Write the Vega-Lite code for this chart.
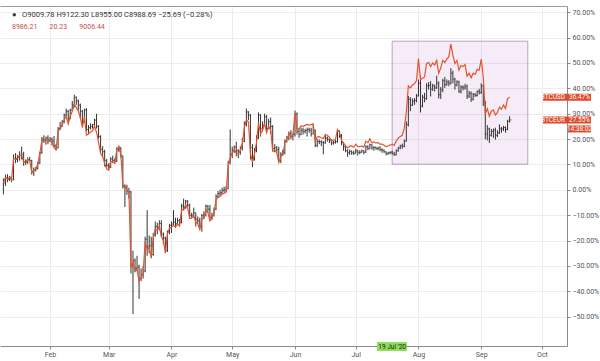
{
  "$schema": "https://vega.github.io/schema/vega-lite/v6.json",
  "width": 567,
  "height": 340,
  "autosize": {"type": "none"},
  "padding": {"left": 0, "top": 6, "right": 33, "bottom": 15},
  "background": "white",
  "config": {
    "view": {"stroke": null},
    "font": "Roboto",
    "axis": {"labelOverlap": false}
  },
  "title": {
    "text": "●\u00a0\u00a0\u00a0O9009.78  H9122.30  L8955.00  C8988.69  −25.69 (−0.28%)",
    "subtitle": "8986.21\u00a0\u00a0\u00a0\u00a0\u00a0\u00a0\u00a020.23\u00a0\u00a0\u00a0\u00a0\u00a0\u00a0\u00a09006.44",
    "anchor": "start",
    "frame": "group",
    "orient": "top",
    "offset": -24,
    "dx": 12,
    "fontSize": 7.5,
    "fontWeight": "normal",
    "color": "#333333",
    "subtitleFontSize": 7,
    "subtitleColor": "#c0504d",
    "subtitlePadding": 5
  },
  "datasets": {
    "btc": [
      {"d":"2020-01-09","h":4.5,"l":-1.8,"c":2.8,"u":2.8},
      {"d":"2020-01-10","h":6.0,"l":1.5,"c":4.7,"u":4.8},
      {"d":"2020-01-11","h":6.2,"l":3.0,"c":4.2,"u":4.3},
      {"d":"2020-01-12","h":5.5,"l":3.5,"c":5.0,"u":5.0},
      {"d":"2020-01-13","h":5.2,"l":3.0,"c":3.9,"u":3.8},
      {"d":"2020-01-14","h":14.0,"l":3.8,"c":12.4,"u":12.4},
      {"d":"2020-01-15","h":14.5,"l":10.5,"c":12.0,"u":12.0},
      {"d":"2020-01-16","h":13.8,"l":10.8,"c":12.7,"u":12.8},
      {"d":"2020-01-17","h":15.2,"l":11.5,"c":13.5,"u":13.4},
      {"d":"2020-01-18","h":17.0,"l":12.0,"c":14.0,"u":13.8},
      {"d":"2020-01-19","h":15.0,"l":9.5,"c":11.0,"u":11.0},
      {"d":"2020-01-20","h":12.0,"l":9.8,"c":10.8,"u":10.7},
      {"d":"2020-01-21","h":12.8,"l":10.2,"c":12.0,"u":12.0},
      {"d":"2020-01-22","h":13.0,"l":11.0,"c":11.6,"u":11.4},
      {"d":"2020-01-23","h":11.8,"l":6.0,"c":7.0,"u":7.0},
      {"d":"2020-01-24","h":8.8,"l":5.5,"c":7.8,"u":7.6},
      {"d":"2020-01-25","h":9.0,"l":7.2,"c":8.5,"u":8.2},
      {"d":"2020-01-26","h":11.0,"l":8.0,"c":10.5,"u":10.2},
      {"d":"2020-01-27","h":15.0,"l":10.2,"c":14.6,"u":14.4},
      {"d":"2020-01-28","h":20.8,"l":14.2,"c":20.0,"u":19.6},
      {"d":"2020-01-29","h":21.5,"l":18.5,"c":19.5,"u":19.2},
      {"d":"2020-01-30","h":21.0,"l":17.8,"c":20.4,"u":20.0},
      {"d":"2020-01-31","h":21.5,"l":18.0,"c":19.6,"u":19.2},
      {"d":"2020-02-01","h":20.8,"l":19.0,"c":20.0,"u":19.2},
      {"d":"2020-02-02","h":20.6,"l":17.5,"c":19.2,"u":18.5},
      {"d":"2020-02-03","h":21.2,"l":16.8,"c":17.3,"u":16.6},
      {"d":"2020-02-04","h":18.0,"l":15.5,"c":16.5,"u":15.8},
      {"d":"2020-02-05","h":24.8,"l":16.4,"c":24.2,"u":23.2},
      {"d":"2020-02-06","h":26.8,"l":23.5,"c":25.2,"u":24.0},
      {"d":"2020-02-07","h":27.5,"l":24.8,"c":26.9,"u":25.6},
      {"d":"2020-02-08","h":30.0,"l":26.2,"c":29.5,"u":27.5},
      {"d":"2020-02-09","h":32.0,"l":29.0,"c":31.0,"u":29.0},
      {"d":"2020-02-10","h":31.5,"l":27.0,"c":28.0,"u":26.0},
      {"d":"2020-02-11","h":32.0,"l":27.8,"c":31.5,"u":29.0},
      {"d":"2020-02-12","h":35.0,"l":31.0,"c":33.4,"u":31.0},
      {"d":"2020-02-13","h":37.5,"l":32.5,"c":36.5,"u":33.8},
      {"d":"2020-02-14","h":36.8,"l":33.5,"c":35.0,"u":32.5},
      {"d":"2020-02-15","h":35.6,"l":31.5,"c":33.4,"u":31.0},
      {"d":"2020-02-16","h":34.0,"l":28.0,"c":31.0,"u":28.5},
      {"d":"2020-02-17","h":31.5,"l":25.5,"c":26.9,"u":24.5},
      {"d":"2020-02-18","h":32.0,"l":26.5,"c":31.5,"u":28.8},
      {"d":"2020-02-19","h":32.2,"l":23.0,"c":23.8,"u":21.5},
      {"d":"2020-02-20","h":25.5,"l":22.2,"c":24.5,"u":22.0},
      {"d":"2020-02-21","h":26.2,"l":23.8,"c":25.0,"u":22.8},
      {"d":"2020-02-22","h":26.0,"l":24.2,"c":25.7,"u":23.2},
      {"d":"2020-02-23","h":28.0,"l":25.2,"c":27.5,"u":25.2},
      {"d":"2020-02-24","h":30.0,"l":24.2,"c":25.0,"u":22.6},
      {"d":"2020-02-25","h":25.5,"l":20.2,"c":21.0,"u":18.8},
      {"d":"2020-02-26","h":21.5,"l":14.5,"c":16.0,"u":14.2},
      {"d":"2020-02-27","h":17.2,"l":12.8,"c":15.0,"u":13.2},
      {"d":"2020-02-28","h":15.8,"l":9.2,"c":11.5,"u":10.4},
      {"d":"2020-02-29","h":12.2,"l":8.8,"c":9.6,"u":8.2},
      {"d":"2020-03-01","h":10.5,"l":7.8,"c":8.9,"u":7.8},
      {"d":"2020-03-02","h":12.8,"l":8.6,"c":12.2,"u":11.2},
      {"d":"2020-03-03","h":13.5,"l":10.5,"c":11.6,"u":11.0},
      {"d":"2020-03-04","h":12.4,"l":10.2,"c":11.2,"u":10.8},
      {"d":"2020-03-05","h":16.8,"l":11.0,"c":16.0,"u":15.6},
      {"d":"2020-03-06","h":17.4,"l":15.0,"c":16.6,"u":17.0},
      {"d":"2020-03-07","h":16.8,"l":12.6,"c":13.5,"u":13.8},
      {"d":"2020-03-08","h":13.4,"l":0.5,"c":1.3,"u":1.8},
      {"d":"2020-03-09","h":2.2,"l":-6.8,"c":0.9,"u":1.5},
      {"d":"2020-03-10","h":2.0,"l":-2.0,"c":-0.6,"u":-0.2},
      {"d":"2020-03-11","h":0.8,"l":-3.5,"c":-0.8,"u":-0.8},
      {"d":"2020-03-12","h":-0.5,"l":-33.0,"c":-30.0,"u":-30.5},
      {"d":"2020-03-13","h":-24.0,"l":-49.0,"c":-27.9,"u":-28.5},
      {"d":"2020-03-14","h":-27.0,"l":-32.5,"c":-31.0,"u":-32.0},
      {"d":"2020-03-15","h":-26.0,"l":-32.0,"c":-30.5,"u":-31.5},
      {"d":"2020-03-16","h":-29.5,"l":-43.0,"c":-35.0,"u":-36.0},
      {"d":"2020-03-17","h":-31.0,"l":-36.0,"c":-33.5,"u":-34.5},
      {"d":"2020-03-18","h":-30.0,"l":-35.0,"c":-32.0,"u":-33.0},
      {"d":"2020-03-19","h":-18.5,"l":-32.5,"c":-19.5,"u":-20.5},
      {"d":"2020-03-20","h":-8.0,"l":-26.0,"c":-22.5,"u":-23.5},
      {"d":"2020-03-21","h":-18.0,"l":-25.0,"c":-22.0,"u":-23.0},
      {"d":"2020-03-22","h":-18.5,"l":-27.0,"c":-25.5,"u":-26.5},
      {"d":"2020-03-23","h":-17.0,"l":-26.0,"c":-17.8,"u":-18.8},
      {"d":"2020-03-24","h":-12.5,"l":-18.5,"c":-14.5,"u":-15.5},
      {"d":"2020-03-25","h":-13.0,"l":-17.5,"c":-15.0,"u":-16.0},
      {"d":"2020-03-26","h":-12.0,"l":-16.0,"c":-13.3,"u":-14.2},
      {"d":"2020-03-27","h":-12.0,"l":-18.5,"c":-17.5,"u":-18.4},
      {"d":"2020-03-28","h":-16.8,"l":-21.5,"c":-19.0,"u":-20.0},
      {"d":"2020-03-29","h":-18.5,"l":-24.8,"c":-24.0,"u":-25.0},
      {"d":"2020-03-30","h":-16.0,"l":-24.5,"c":-16.5,"u":-17.5},
      {"d":"2020-03-31","h":-13.5,"l":-17.5,"c":-14.0,"u":-15.2},
      {"d":"2020-04-01","h":-12.5,"l":-17.0,"c":-13.5,"u":-14.8},
      {"d":"2020-04-02","h":-8.0,"l":-14.0,"c":-12.8,"u":-14.0},
      {"d":"2020-04-03","h":-11.0,"l":-15.0,"c":-13.3,"u":-14.6},
      {"d":"2020-04-04","h":-11.0,"l":-14.0,"c":-12.1,"u":-13.4},
      {"d":"2020-04-05","h":-11.5,"l":-14.5,"c":-13.0,"u":-14.2},
      {"d":"2020-04-06","h":-5.5,"l":-13.2,"c":-6.4,"u":-7.8},
      {"d":"2020-04-07","h":-3.5,"l":-8.0,"c":-6.8,"u":-8.0},
      {"d":"2020-04-08","h":-4.0,"l":-7.5,"c":-4.5,"u":-5.9},
      {"d":"2020-04-09","h":-4.0,"l":-7.0,"c":-6.0,"u":-7.2},
      {"d":"2020-04-10","h":-5.5,"l":-11.5,"c":-10.0,"u":-11.2},
      {"d":"2020-04-11","h":-9.0,"l":-11.0,"c":-10.0,"u":-11.2},
      {"d":"2020-04-12","h":-7.0,"l":-11.0,"c":-9.0,"u":-10.2},
      {"d":"2020-04-13","h":-9.0,"l":-14.5,"c":-11.6,"u":-12.8},
      {"d":"2020-04-14","h":-10.5,"l":-13.5,"c":-12.2,"u":-13.4},
      {"d":"2020-04-15","h":-11.0,"l":-15.0,"c":-14.5,"u":-15.7},
      {"d":"2020-04-16","h":-9.5,"l":-16.5,"c":-10.2,"u":-11.5},
      {"d":"2020-04-17","h":-8.5,"l":-11.5,"c":-10.0,"u":-11.3},
      {"d":"2020-04-18","h":-5.8,"l":-10.5,"c":-6.4,"u":-7.8},
      {"d":"2020-04-19","h":-6.0,"l":-9.0,"c":-7.6,"u":-9.0},
      {"d":"2020-04-20","h":-6.0,"l":-11.8,"c":-10.8,"u":-12.2},
      {"d":"2020-04-21","h":-9.0,"l":-11.8,"c":-10.0,"u":-11.4},
      {"d":"2020-04-22","h":-7.0,"l":-10.5,"c":-7.6,"u":-9.0},
      {"d":"2020-04-23","h":-1.8,"l":-8.0,"c":-2.6,"u":-4.0},
      {"d":"2020-04-24","h":-0.5,"l":-3.0,"c":-1.5,"u":-3.0},
      {"d":"2020-04-25","h":0.0,"l":-2.5,"c":-1.1,"u":-2.6},
      {"d":"2020-04-26","h":0.8,"l":-1.8,"c":-0.2,"u":-1.6},
      {"d":"2020-04-27","h":1.2,"l":-1.0,"c":0.0,"u":-1.4},
      {"d":"2020-04-28","h":1.5,"l":-0.8,"c":0.5,"u":-0.9},
      {"d":"2020-04-29","h":11.5,"l":0.2,"c":10.8,"u":9.5},
      {"d":"2020-04-30","h":23.8,"l":10.0,"c":14.0,"u":12.8},
      {"d":"2020-05-01","h":17.0,"l":12.5,"c":15.4,"u":14.5},
      {"d":"2020-05-02","h":17.5,"l":14.5,"c":16.8,"u":16.0},
      {"d":"2020-05-03","h":19.0,"l":13.2,"c":15.4,"u":14.6},
      {"d":"2020-05-04","h":16.0,"l":12.5,"c":15.0,"u":14.2},
      {"d":"2020-05-05","h":17.2,"l":13.8,"c":16.4,"u":15.5},
      {"d":"2020-05-06","h":20.5,"l":15.5,"c":19.2,"u":18.2},
      {"d":"2020-05-07","h":27.0,"l":18.8,"c":26.0,"u":24.5},
      {"d":"2020-05-08","h":32.0,"l":25.0,"c":30.7,"u":27.6},
      {"d":"2020-05-09","h":31.0,"l":27.5,"c":29.5,"u":26.8},
      {"d":"2020-05-10","h":29.8,"l":12.0,"c":16.6,"u":14.5},
      {"d":"2020-05-11","h":18.0,"l":8.9,"c":12.0,"u":10.8},
      {"d":"2020-05-12","h":16.5,"l":11.5,"c":15.4,"u":14.2},
      {"d":"2020-05-13","h":21.5,"l":14.8,"c":20.5,"u":18.6},
      {"d":"2020-05-14","h":30.5,"l":20.0,"c":29.5,"u":26.5},
      {"d":"2020-05-15","h":29.8,"l":21.0,"c":24.0,"u":22.0},
      {"d":"2020-05-16","h":27.0,"l":23.0,"c":25.5,"u":23.5},
      {"d":"2020-05-17","h":30.0,"l":25.0,"c":28.8,"u":26.2},
      {"d":"2020-05-18","h":29.5,"l":23.5,"c":24.2,"u":22.5},
      {"d":"2020-05-19","h":28.0,"l":24.0,"c":26.9,"u":25.0},
      {"d":"2020-05-20","h":28.5,"l":22.0,"c":25.0,"u":23.5},
      {"d":"2020-05-21","h":25.5,"l":15.2,"c":16.2,"u":15.2},
      {"d":"2020-05-22","h":18.0,"l":14.8,"c":16.6,"u":15.5},
      {"d":"2020-05-23","h":17.2,"l":14.5,"c":15.8,"u":14.8},
      {"d":"2020-05-24","h":17.0,"l":11.0,"c":11.6,"u":10.8},
      {"d":"2020-05-25","h":14.8,"l":10.5,"c":14.0,"u":13.0},
      {"d":"2020-05-26","h":15.8,"l":13.5,"c":14.6,"u":13.8},
      {"d":"2020-05-27","h":19.8,"l":14.0,"c":19.2,"u":18.5},
      {"d":"2020-05-28","h":21.2,"l":18.6,"c":20.5,"u":20.0},
      {"d":"2020-05-29","h":23.0,"l":19.5,"c":22.3,"u":22.0},
      {"d":"2020-05-30","h":23.5,"l":20.0,"c":21.0,"u":21.0},
      {"d":"2020-05-31","h":22.5,"l":19.5,"c":21.9,"u":21.8},
      {"d":"2020-06-01","h":31.2,"l":21.0,"c":29.9,"u":30.2},
      {"d":"2020-06-02","h":30.5,"l":21.8,"c":23.0,"u":24.0},
      {"d":"2020-06-03","h":24.0,"l":20.5,"c":21.9,"u":24.0},
      {"d":"2020-06-04","h":24.5,"l":21.5,"c":23.5,"u":25.2},
      {"d":"2020-06-05","h":24.5,"l":21.8,"c":23.0,"u":25.0},
      {"d":"2020-06-06","h":24.0,"l":22.2,"c":23.4,"u":25.4},
      {"d":"2020-06-07","h":24.5,"l":21.0,"c":23.8,"u":25.8},
      {"d":"2020-06-08","h":24.5,"l":22.5,"c":23.5,"u":25.5},
      {"d":"2020-06-09","h":24.5,"l":21.0,"c":22.0,"u":25.7},
      {"d":"2020-06-10","h":25.5,"l":22.0,"c":23.5,"u":26.0},
      {"d":"2020-06-11","h":23.8,"l":16.8,"c":17.5,"u":19.2},
      {"d":"2020-06-12","h":20.0,"l":16.8,"c":19.0,"u":20.8},
      {"d":"2020-06-13","h":19.8,"l":18.0,"c":19.0,"u":21.0},
      {"d":"2020-06-14","h":19.5,"l":17.2,"c":18.8,"u":20.5},
      {"d":"2020-06-15","h":19.2,"l":14.0,"c":18.5,"u":20.2},
      {"d":"2020-06-16","h":21.5,"l":18.2,"c":20.4,"u":21.8},
      {"d":"2020-06-17","h":21.0,"l":19.0,"c":20.0,"u":21.5},
      {"d":"2020-06-18","h":20.2,"l":18.4,"c":19.5,"u":20.8},
      {"d":"2020-06-19","h":19.8,"l":17.6,"c":18.5,"u":19.2},
      {"d":"2020-06-20","h":19.2,"l":17.8,"c":18.8,"u":19.6},
      {"d":"2020-06-21","h":19.6,"l":18.2,"c":19.0,"u":19.8},
      {"d":"2020-06-22","h":23.6,"l":18.6,"c":23.0,"u":23.8},
      {"d":"2020-06-23","h":23.4,"l":20.5,"c":21.5,"u":22.6},
      {"d":"2020-06-24","h":22.0,"l":17.6,"c":18.5,"u":19.5},
      {"d":"2020-06-25","h":18.8,"l":15.4,"c":17.0,"u":18.4},
      {"d":"2020-06-26","h":17.5,"l":14.8,"c":15.4,"u":17.3},
      {"d":"2020-06-27","h":16.0,"l":13.0,"c":14.6,"u":16.5},
      {"d":"2020-06-28","h":15.8,"l":13.8,"c":15.2,"u":17.2},
      {"d":"2020-06-29","h":15.5,"l":13.8,"c":14.6,"u":17.3},
      {"d":"2020-06-30","h":15.4,"l":13.8,"c":14.4,"u":16.8},
      {"d":"2020-07-01","h":16.2,"l":14.2,"c":15.4,"u":18.0},
      {"d":"2020-07-02","h":15.8,"l":13.5,"c":14.8,"u":17.0},
      {"d":"2020-07-03","h":15.5,"l":14.0,"c":14.8,"u":17.0},
      {"d":"2020-07-04","h":15.8,"l":14.6,"c":15.4,"u":17.3},
      {"d":"2020-07-05","h":15.6,"l":14.0,"c":14.8,"u":16.8},
      {"d":"2020-07-06","h":17.5,"l":14.6,"c":17.0,"u":19.2},
      {"d":"2020-07-07","h":17.6,"l":15.6,"c":16.2,"u":18.6},
      {"d":"2020-07-08","h":18.2,"l":16.0,"c":17.8,"u":20.2},
      {"d":"2020-07-09","h":18.0,"l":15.8,"c":16.6,"u":18.5},
      {"d":"2020-07-10","h":17.2,"l":15.4,"c":16.8,"u":19.0},
      {"d":"2020-07-11","h":17.0,"l":15.8,"c":16.2,"u":18.4},
      {"d":"2020-07-12","h":17.0,"l":15.6,"c":16.5,"u":18.7},
      {"d":"2020-07-13","h":17.2,"l":15.2,"c":15.8,"u":18.0},
      {"d":"2020-07-14","h":16.4,"l":14.6,"c":15.6,"u":18.0},
      {"d":"2020-07-15","h":16.0,"l":14.6,"c":15.0,"u":17.6},
      {"d":"2020-07-16","h":15.2,"l":13.6,"c":14.2,"u":17.0},
      {"d":"2020-07-17","h":15.0,"l":13.8,"c":14.6,"u":17.3},
      {"d":"2020-07-18","h":15.2,"l":14.0,"c":14.8,"u":17.6},
      {"d":"2020-07-19","h":15.4,"l":14.0,"c":14.2,"u":18.0},
      {"d":"2020-07-20","h":15.0,"l":13.4,"c":13.8,"u":17.5},
      {"d":"2020-07-21","h":16.0,"l":13.6,"c":15.4,"u":19.2},
      {"d":"2020-07-22","h":17.0,"l":15.0,"c":16.5,"u":20.4},
      {"d":"2020-07-23","h":17.8,"l":16.0,"c":17.3,"u":21.0},
      {"d":"2020-07-24","h":18.2,"l":16.2,"c":17.2,"u":21.5},
      {"d":"2020-07-25","h":19.8,"l":16.8,"c":19.2,"u":24.2},
      {"d":"2020-07-26","h":27.0,"l":19.0,"c":25.7,"u":30.7},
      {"d":"2020-07-27","h":37.0,"l":25.0,"c":35.7,"u":41.0},
      {"d":"2020-07-28","h":36.5,"l":31.0,"c":33.4,"u":40.2},
      {"d":"2020-07-29","h":36.0,"l":33.0,"c":35.0,"u":41.3},
      {"d":"2020-07-30","h":36.2,"l":33.5,"c":35.2,"u":41.8},
      {"d":"2020-07-31","h":37.8,"l":34.5,"c":37.0,"u":43.0},
      {"d":"2020-08-01","h":43.5,"l":36.8,"c":42.0,"u":51.8},
      {"d":"2020-08-02","h":45.0,"l":30.5,"c":33.0,"u":43.4},
      {"d":"2020-08-03","h":37.5,"l":32.5,"c":36.5,"u":44.0},
      {"d":"2020-08-04","h":38.2,"l":34.5,"c":36.0,"u":44.5},
      {"d":"2020-08-05","h":42.0,"l":35.5,"c":41.0,"u":49.8},
      {"d":"2020-08-06","h":42.5,"l":39.5,"c":41.2,"u":50.2},
      {"d":"2020-08-07","h":42.8,"l":36.8,"c":39.7,"u":48.6},
      {"d":"2020-08-08","h":41.8,"l":39.0,"c":41.0,"u":50.0},
      {"d":"2020-08-09","h":41.5,"l":38.8,"c":40.2,"u":49.2},
      {"d":"2020-08-10","h":45.0,"l":39.8,"c":42.0,"u":51.0},
      {"d":"2020-08-11","h":42.8,"l":36.0,"c":37.5,"u":46.0},
      {"d":"2020-08-12","h":40.5,"l":35.8,"c":39.5,"u":48.0},
      {"d":"2020-08-13","h":43.8,"l":38.5,"c":43.0,"u":51.0},
      {"d":"2020-08-14","h":44.5,"l":40.2,"c":41.5,"u":50.2},
      {"d":"2020-08-15","h":43.5,"l":41.0,"c":42.5,"u":51.5},
      {"d":"2020-08-16","h":43.2,"l":40.8,"c":42.0,"u":52.5},
      {"d":"2020-08-17","h":48.0,"l":41.5,"c":46.0,"u":57.5},
      {"d":"2020-08-18","h":47.0,"l":42.0,"c":43.6,"u":53.0},
      {"d":"2020-08-19","h":44.2,"l":39.5,"c":41.3,"u":49.8},
      {"d":"2020-08-20","h":43.2,"l":40.8,"c":42.5,"u":51.0},
      {"d":"2020-08-21","h":43.0,"l":38.2,"c":38.8,"u":47.2},
      {"d":"2020-08-22","h":41.2,"l":38.0,"c":40.5,"u":49.0},
      {"d":"2020-08-23","h":41.2,"l":39.2,"c":40.2,"u":48.6},
      {"d":"2020-08-24","h":41.8,"l":39.5,"c":40.8,"u":49.4},
      {"d":"2020-08-25","h":41.5,"l":35.8,"c":37.0,"u":44.8},
      {"d":"2020-08-26","h":39.0,"l":36.2,"c":38.0,"u":46.0},
      {"d":"2020-08-27","h":38.8,"l":34.6,"c":35.7,"u":44.2},
      {"d":"2020-08-28","h":38.2,"l":35.2,"c":37.6,"u":46.0},
      {"d":"2020-08-29","h":38.2,"l":36.6,"c":37.2,"u":45.5},
      {"d":"2020-08-30","h":39.2,"l":36.8,"c":38.8,"u":47.5},
      {"d":"2020-08-31","h":39.8,"l":37.6,"c":38.4,"u":47.2},
      {"d":"2020-09-01","h":42.0,"l":37.8,"c":41.0,"u":51.5},
      {"d":"2020-09-02","h":41.5,"l":33.0,"c":35.5,"u":44.5},
      {"d":"2020-09-03","h":35.0,"l":20.0,"c":22.0,"u":30.0},
      {"d":"2020-09-04","h":25.5,"l":19.5,"c":24.0,"u":32.0},
      {"d":"2020-09-05","h":24.5,"l":18.5,"c":21.5,"u":29.0},
      {"d":"2020-09-06","h":24.0,"l":21.0,"c":23.0,"u":31.0},
      {"d":"2020-09-07","h":24.2,"l":20.5,"c":23.5,"u":31.5},
      {"d":"2020-09-08","h":24.5,"l":19.8,"c":21.5,"u":29.5},
      {"d":"2020-09-09","h":23.5,"l":20.8,"c":22.5,"u":30.5},
      {"d":"2020-09-10","h":25.8,"l":22.0,"c":24.0,"u":32.6},
      {"d":"2020-09-11","h":24.8,"l":22.5,"c":24.0,"u":31.8},
      {"d":"2020-09-12","h":25.2,"l":23.2,"c":24.6,"u":33.4},
      {"d":"2020-09-13","h":25.0,"l":22.5,"c":23.8,"u":32.0},
      {"d":"2020-09-14","h":27.6,"l":23.5,"c":27.0,"u":36.0},
      {"d":"2020-09-15","h":29.0,"l":26.5,"c":27.55,"u":36.47}
    ],
    "tags": [
      {"name": "BTCUSD", "val": "36.47%", "v": 36.47},
      {"name": "BTCEUR", "val": "27.55%", "v": 27.55}
    ]
  },
  "resolve": {"axis": {"x": "independent"}},
  "layer": [
    {
      "data": {"values": [{"from": "2020-07-19", "to": "2020-09-24", "top": 58.6, "bottom": 10.1}]},
      "mark": {"type": "rect", "fill": "#9c27b0", "fillOpacity": 0.09, "stroke": "#8e5a9e", "strokeOpacity": 0.55, "strokeWidth": 1},
      "encoding": {
        "x": {"field": "from", "type": "temporal", "scale": {"type": "utc", "domain": [{"year": 2020, "month": 1, "date": 7, "hours": 7, "minutes": 30, "utc": true}, {"year": 2020, "month": 10, "date": 13, "hours": 8, "minutes": 30, "utc": true}]},
          "axis": {"orient": "bottom", "tickCount": 20, "values": [
            {"year": 2020, "month": 2, "date": 1, "utc": true},
            {"year": 2020, "month": 3, "date": 1, "utc": true},
            {"year": 2020, "month": 4, "date": 1, "utc": true},
            {"year": 2020, "month": 5, "date": 1, "utc": true},
            {"year": 2020, "month": 6, "date": 1, "utc": true},
            {"year": 2020, "month": 7, "date": 1, "utc": true},
            {"year": 2020, "month": 8, "date": 1, "utc": true},
            {"year": 2020, "month": 9, "date": 1, "utc": true},
            {"year": 2020, "month": 10, "date": 1, "utc": true}],
            "labelExpr": "utcFormat(datum.value, '%b')", "title": null, "grid": true, "gridColor": "#ececec", "gridWidth": 1,
            "domainColor": "#8a8a8a", "tickColor": "#8a8a8a", "tickSize": 3, "labelFontSize": 7, "labelColor": "#555555", "labelPadding": 1, "labelFlush": false, "labelOverlap": false}},
        "x2": {"field": "to"},
        "y": {"field": "top", "type": "quantitative", "scale": {"domain": [-59.6, 70.5], "nice": false, "zero": false},
          "axis": {"orient": "right", "tickCount": 20, "values": [-50, -40, -30, -20, -10, 0, 10, 20, 30, 40, 50, 60, 70], "labelExpr": "format(datum.value, '.2f') + '%'", "title": null, "labelOverlap": false, "labelBound": false,
            "grid": true, "gridColor": "#ececec", "domainColor": "#8a8a8a", "tickColor": "#8a8a8a", "tickSize": 3, "labelFontSize": 7, "labelColor": "#555555", "labelPadding": 2}},
        "y2": {"field": "bottom"}
      }
    },
    {
      "mark": {"type": "rule", "color": "#7cd04a", "strokeDash": [4, 3], "strokeWidth": 1},
      "encoding": {"x": {"datum": {"year": 2020, "month": 7, "date": 19, "utc": true}, "type": "temporal", "axis": null}}
    },
    {
      "mark": {"type": "rule", "color": "#d08a8a", "strokeDash": [2, 2], "strokeWidth": 1, "opacity": 0.7},
      "encoding": {"y": {"datum": 27.55, "type": "quantitative"}}
    },
    {
      "data": {"name": "btc"},
      "mark": {"type": "rule", "color": "#333333", "strokeWidth": 1},
      "encoding": {
        "x": {"field": "d", "type": "temporal", "axis": null},
        "y": {"field": "l", "type": "quantitative"},
        "y2": {"field": "h"}
      }
    },
    {
      "data": {"name": "btc"},
      "mark": {"type": "tick", "orient": "horizontal", "color": "#333333", "size": 2, "thickness": 1, "xOffset": 1},
      "encoding": {
        "x": {"field": "d", "type": "temporal", "axis": null},
        "y": {"field": "c", "type": "quantitative"}
      }
    },
    {
      "data": {"name": "btc"},
      "mark": {"type": "line", "color": "#e4542e", "strokeWidth": 1.2},
      "encoding": {
        "x": {"field": "d", "type": "temporal", "axis": {"orient": "top", "labels": false, "ticks": false, "grid": false, "domain": true, "domainColor": "#9a9a9a", "title": null}},
        "y": {"field": "u", "type": "quantitative"}
      }
    },
    {
      "data": {"name": "tags"},
      "mark": {"type": "bar", "orient": "horizontal", "height": 7, "color": "#dc4b2c", "clip": false},
      "encoding": {
        "x": {"datum": {"year": 2020, "month": 10, "date": 1, "hours": 12, "utc": true}, "type": "temporal", "axis": null},
        "x2": {"datum": {"year": 2020, "month": 10, "date": 25, "hours": 5, "utc": true}},
        "y": {"field": "v", "type": "quantitative"}
      }
    },
    {
      "data": {"name": "tags"},
      "mark": {"type": "text", "align": "right", "baseline": "middle", "dx": -2, "fontSize": 6.5, "color": "white", "clip": false},
      "encoding": {
        "x": {"datum": {"year": 2020, "month": 10, "date": 13, "hours": 8, "minutes": 30, "utc": true}, "type": "temporal", "axis": null},
        "y": {"field": "v", "type": "quantitative"},
        "text": {"field": "name"}
      }
    },
    {
      "data": {"name": "tags"},
      "mark": {"type": "text", "align": "left", "baseline": "middle", "dx": 2, "fontSize": 6.5, "color": "white", "clip": false},
      "encoding": {
        "x": {"datum": {"year": 2020, "month": 10, "date": 13, "hours": 8, "minutes": 30, "utc": true}, "type": "temporal", "axis": null},
        "y": {"field": "v", "type": "quantitative"},
        "text": {"field": "val"}
      }
    },
    {
      "data": {"values": [{"t": "14:38:02", "v": 27.55}]},
      "mark": {"type": "bar", "orient": "horizontal", "height": 7, "yOffset": 9, "color": "#dc4b2c", "clip": false},
      "encoding": {
        "x": {"datum": {"year": 2020, "month": 10, "date": 13, "hours": 20, "utc": true}, "type": "temporal", "axis": null},
        "x2": {"datum": {"year": 2020, "month": 10, "date": 25, "hours": 5, "utc": true}},
        "y": {"field": "v", "type": "quantitative"}
      }
    },
    {
      "data": {"values": [{"t": "14:38:02", "v": 27.55}]},
      "mark": {"type": "text", "align": "center", "baseline": "middle", "dy": 9, "fontSize": 6.5, "color": "white", "clip": false},
      "encoding": {
        "x": {"datum": {"year": 2020, "month": 10, "date": 19, "hours": 12, "utc": true}, "type": "temporal", "axis": null},
        "y": {"field": "v", "type": "quantitative"},
        "text": {"field": "t"}
      }
    },
    {
      "data": {"values": [{"d": "2020-07-19", "t": "19 Jul '20"}]},
      "mark": {"type": "bar", "orient": "horizontal", "height": 9, "color": "#8fdc5c", "clip": false},
      "encoding": {
        "x": {"datum": {"year": 2020, "month": 7, "date": 11, "hours": 12, "utc": true}, "type": "temporal", "axis": null},
        "x2": {"datum": {"year": 2020, "month": 7, "date": 26, "hours": 7, "utc": true}},
        "y": {"datum": -61.8, "type": "quantitative"}
      }
    },
    {
      "data": {"values": [{"d": "2020-07-19", "t": "19 Jul '20"}]},
      "mark": {"type": "text", "align": "center", "baseline": "middle", "fontSize": 6.5, "color": "#1a1a1a", "clip": false},
      "encoding": {
        "x": {"field": "d", "type": "temporal", "axis": null},
        "y": {"datum": -61.8, "type": "quantitative"},
        "text": {"field": "t"}
      }
    }
  ]
}
